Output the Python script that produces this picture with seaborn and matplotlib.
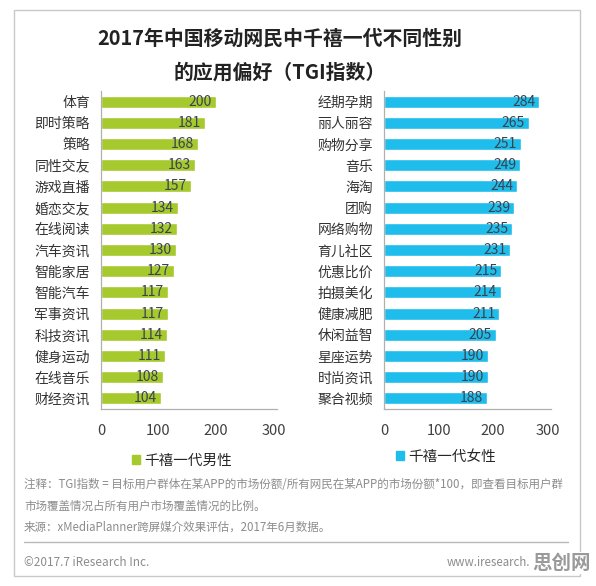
import matplotlib
matplotlib.use('Agg')
import matplotlib.pyplot as plt
import matplotlib.patches as mpatches
import seaborn as sns

sns.set_style('white')
plt.rcParams['font.family'] = ['Noto Sans CJK SC', 'DejaVu Sans']

# 数据
male_apps = ['体育', '即时策略', '策略', '同性交友', '游戏直播', '婚恋交友', '在线阅读',
             '汽车资讯', '智能家居', '智能汽车', '军事资讯', '科技资讯', '健身运动',
             '在线音乐', '财经资讯']
male_tgi = [200, 181, 168, 163, 157, 134, 132, 130, 127, 117, 117, 114, 111, 108, 104]

female_apps = ['经期孕期', '丽人丽容', '购物分享', '音乐', '海淘', '团购', '网络购物',
               '育儿社区', '优惠比价', '拍摄美化', '健康减肥', '休闲益智', '星座运势',
               '时尚资讯', '聚合视频']
female_tgi = [284, 265, 251, 249, 244, 239, 235, 231, 215, 214, 211, 205, 190, 190, 188]

x_ticks = [0, 100, 200, 300]

GREEN = '#a6c92d'
CYAN = '#1fbdeb'
W, H = 596, 586

fig = plt.figure(figsize=(W / 100, H / 100), dpi=100)


def px_axes(x0, x1, y_top, y_bot):
    return fig.add_axes([x0 / W, 1 - y_bot / H, (x1 - x0) / W, (y_bot - y_top) / H])


def draw_panel(ax, apps, vals, color):
    sns.barplot(x=vals, y=apps, color=color, width=0.57, saturation=1, ax=ax)
    ax.set_xlim(0, 306)
    ax.set_xticks(x_ticks)
    ax.set_xlabel('')
    ax.set_ylabel('')
    for i, v in enumerate(vals):
        ax.text(v - 7, i, str(v), ha='right', va='center', fontsize=10, color='#3a4350')
    for s in ['top', 'right']:
        ax.spines[s].set_visible(False)
    for s in ['left', 'bottom']:
        ax.spines[s].set_color('#b0b0b0')
        ax.spines[s].set_linewidth(0.9)
    ax.tick_params(axis='x', length=0, pad=11, labelsize=10.5, colors='#404040')
    ax.tick_params(axis='y', length=0, pad=8, labelsize=10, colors='#333333')


ax1 = px_axes(101, 277, 91, 409)
draw_panel(ax1, male_apps, male_tgi, GREEN)
ax2 = px_axes(384, 551, 91, 409)
draw_panel(ax2, female_apps, female_tgi, CYAN)

# 标题
fig.text(280 / W, 1 - 38 / H, '2017年中国移动网民中千禧一代不同性别', ha='center', va='center',
         fontsize=14.3, fontweight='bold', color='#222222')
fig.text(280 / W, 1 - 72 / H, '的应用偏好（TGI指数）', ha='center', va='center',
         fontsize=14.3, fontweight='bold', color='#222222')

# 图例
fig.legend(handles=[mpatches.Patch(color=GREEN, label='千禧一代男性')],
           loc='center', bbox_to_anchor=(182 / W, 1 - 461 / H), frameon=False,
           handlelength=0.6, handleheight=0.6, handletextpad=0.3, fontsize=10.5)
fig.legend(handles=[mpatches.Patch(color=CYAN, label='千禧一代女性')],
           loc='center', bbox_to_anchor=(446 / W, 1 - 457 / H), frameon=False,
           handlelength=0.6, handleheight=0.6, handletextpad=0.3, fontsize=10.5)

# 注释
note_color = '#8c8c8c'
fig.text(24 / W, 1 - 485 / H,
         '注释：TGI指数 = 目标用户群体在某APP的市场份额/所有网民在某APP的市场份额*100，即查看目标用户群',
         ha='left', va='center', fontsize=8.3, color=note_color)
fig.text(24 / W, 1 - 506 / H, '市场覆盖情况占所有用户市场覆盖情况的比例。',
         ha='left', va='center', fontsize=8.3, color=note_color)
fig.text(24 / W, 1 - 527 / H, '来源：xMediaPlanner跨屏媒介效果评估，2017年6月数据。',
         ha='left', va='center', fontsize=8.3, color=note_color)
fig.add_artist(plt.Line2D([24 / W, 568 / W], [1 - 542 / H, 1 - 542 / H],
                          color='#b8b8b8', linewidth=1))
fig.text(24 / W, 1 - 562 / H, '©2017.7 iResearch Inc.', ha='left', va='center',
         fontsize=8.5, color=note_color)
fig.text(530 / W, 1 - 562 / H, 'www.iresearch.', ha='right', va='center',
         fontsize=8.3, color=note_color)

# 外框
fig.add_artist(mpatches.Rectangle((14 / W, 1 - 576 / H), 566 / W, 566 / H,
                                  transform=fig.transFigure, fill=False,
                                  edgecolor='#c8c8c8', linewidth=1))

# 水印
fig.text(562 / W, 1 - 563 / H, '思创网', ha='center', va='center', fontsize=14,
         fontweight='bold', color='#9a9a9a',
         bbox=dict(facecolor='white', edgecolor='none', pad=1))

fig.savefig('out.png', dpi=100)
